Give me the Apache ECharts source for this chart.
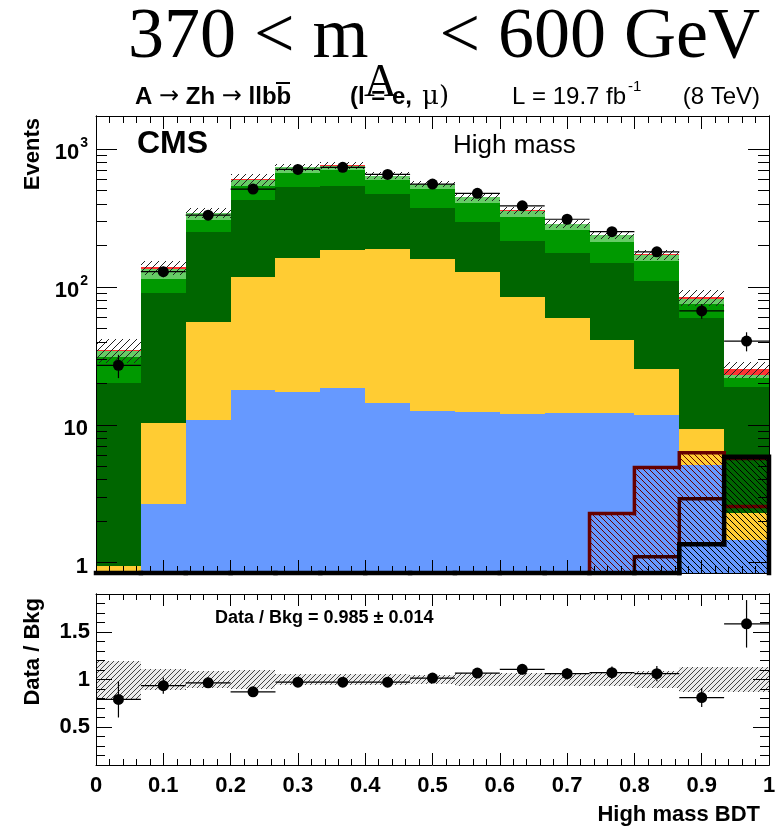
<!DOCTYPE html>
<html>
<head>
<meta charset="utf-8">
<script src="https://cdn.jsdelivr.net/npm/echarts@6/dist/echarts.min.js"></script>
<style>
  html, body { margin: 0; padding: 0; background: #fff; }
  #chart { width: 783px; height: 828px; }
</style>
</head>
<body>
<div id="chart"></div>
<script>
  // bin edges of the high mass BDT (15 bins)
  const binEdges = [0, 0.0667, 0.1333, 0.2, 0.2667, 0.3333, 0.4, 0.4667, 0.5333, 0.6, 0.6667, 0.7333, 0.8, 0.8667, 0.9333, 1]

  // stacked backgrounds, bottom to top
  const bkgBlue = [0.3, 2.66, 10.8, 17.9, 17.3, 18.5, 14.4, 12.6, 12.4, 12.0, 12.2, 12.2, 11.8, 5.1, 1.47]
  const bkgYellow = [0.65, 7.6, 44.8, 100, 146, 168, 173, 146, 116, 73, 47.6, 29, 13.6, 4.25, 0.83]
  const bkgDarkGreen = [19.3, 80.5, 196, 309, 370, 358, 285, 213, 166, 131, 118, 107, 84.6, 49.8, 16.4]
  const bkgGreen = [10.6, 23.2, 54, 113, 142, 160, 128, 139, 110, 104, 81, 65, 44, 16, 3.0]
  const bkgLightGreen = [3.6, 22, 36, 57, 63, 49, 38, 47, 43, 37, 27, 25, 16, 6.6, 1.3]
  const bkgRed = [0.5, 2.5, 5, 8, 3, 8, 3, 3, 3, 2, 2, 2, 2, 2.3, 2.3]
  // relative uncertainty of the total background
  const bkgUnc = [0.2, 0.115, 0.085, 0.1, 0.06, 0.06, 0.06, 0.05, 0.07, 0.065, 0.065, 0.065, 0.085, 0.135, 0.135]

  // signal templates (hatched, not stacked)
  const sigRed = [0, 0, 0, 0, 0, 0, 0, 0, 0, 0, 0, 2.27, 4.89, 6.27, 2.55]
  const sigBrown = [0, 0, 0, 0, 0, 0, 0, 0, 0, 0, 0, 0, 1.10, 2.90, 5.7]
  const sigBlack = [0, 0, 0, 0, 0, 0, 0, 0, 0, 0, 0, 0, 0, 1.36, 5.87]

  // data
  const dataEvents = [27, 129, 332, 513, 713, 738, 656, 558, 478, 388, 310, 252, 180, 67, 40.5]
  const dataErr = [5.2, 11.4, 18.2, 22.6, 26.7, 27.2, 25.6, 23.6, 21.9, 19.7, 17.6, 15.9, 13.4, 8.2, 6.4]

  // ratio panel
  const ratio = [0.79, 0.935, 0.965, 0.87, 0.972, 0.972, 0.972, 1.015, 1.068, 1.107, 1.061, 1.072, 1.061, 0.81, 1.586]
  const ratioErr = [0.19, 0.085, 0.055, 0.045, 0.04, 0.04, 0.04, 0.045, 0.05, 0.055, 0.06, 0.065, 0.08, 0.1, 0.25]

  // tick labels
  const logMajor = [1, 10, 100, 1000]
  const logMinor = [2, 3, 4, 5, 6, 7, 8, 9, 20, 30, 40, 50, 60, 70, 80, 90, 200, 300, 400, 500, 600, 700, 800, 900]
  const ratioMajor = [0.5, 1, 1.5]

  const Y_MIN = 0.84
  const Y_MAX = 1740
  const SANS = '"Liberation Sans", Arial, sans-serif'
  const SERIF = '"Liberation Serif", "Times New Roman", serif'

  // hatch pattern, dir 1 = '/', -1 = '\'
  const hatch = (color, step, dir, bg) => {
    const c = document.createElement('canvas')
    c.width = c.height = step
    const g = c.getContext('2d')
    if (bg) { g.fillStyle = bg; g.fillRect(0, 0, step, step) }
    g.strokeStyle = color
    g.lineWidth = 1
    g.beginPath()
    if (dir > 0) {
      g.moveTo(0, step); g.lineTo(step, 0)
      g.moveTo(-2, 2); g.lineTo(2, -2)
      g.moveTo(step - 2, step + 2); g.lineTo(step + 2, step - 2)
    } else {
      g.moveTo(0, 0); g.lineTo(step, step)
      g.moveTo(step - 2, -2); g.lineTo(step + 2, 2)
      g.moveTo(-2, step - 2); g.lineTo(2, step + 2)
    }
    g.stroke()
    return { image: c, repeat: 'repeat' }
  }

  const clampY = (v) => Math.max(v, Y_MIN)

  // rectangles [x0, x1, y0, y1]
  const rectSeries = (items, style, z, xi, yi, logY) => ({
    type: 'custom',
    xAxisIndex: xi,
    yAxisIndex: yi,
    z: z,
    silent: true,
    animation: false,
    renderItem: (params, api) => {
      let lo = api.value(2)
      let hi = api.value(3)
      if (logY) {
        if (hi <= Y_MIN) return null
        lo = clampY(lo)
      }
      const p0 = api.coord([api.value(0), hi])
      const p1 = api.coord([api.value(1), lo])
      const x0 = Math.round(p0[0])
      const x1 = Math.round(p1[0])
      const y0 = Math.round(p0[1])
      const y1 = Math.round(p1[1])
      return { type: 'rect', shape: { x: x0, y: y0, width: x1 - x0, height: y1 - y0 }, style: style }
    },
    data: items
  })

  // 1. stacked backgrounds
  const layers = [
    { values: bkgBlue, color: '#6699ff' },
    { values: bkgYellow, color: '#ffcc33' },
    { values: bkgDarkGreen, color: '#006600' },
    { values: bkgGreen, color: '#009900' },
    { values: bkgLightGreen, color: '#66cc66' },
    { values: bkgRed, color: '#ff3333' }
  ]
  const total = bkgBlue.map(() => 0)
  const series = []
  layers.forEach((layer) => {
    const items = layer.values.map((v, i) => {
      const lo = total[i]
      total[i] += v
      return [binEdges[i], binEdges[i + 1], lo, total[i]]
    })
    series.push(rectSeries(items, { fill: layer.color }, 2, 0, 0, true))
  })

  // 2. signal templates: hatched fill + step outline
  const signals = [
    { values: sigRed, color: '#660000', width: 3.5 },
    { values: sigBrown, color: '#3a0000', width: 3.5 },
    { values: sigBlack, color: '#000000', width: 4.5 }
  ]
  signals.forEach((sig, k) => {
    const fillItems = sig.values.map((v, i) => [binEdges[i], binEdges[i + 1], 0, v])
    series.push(rectSeries(fillItems, { fill: hatch(sig.color, 6, -1) }, 3 + k * 0.1, 0, 0, true))
    series.push({
      type: 'custom',
      xAxisIndex: 0,
      yAxisIndex: 0,
      z: 3.05 + k * 0.1,
      silent: true,
      animation: false,
      renderItem: (params, api) => {
        const i = params.dataIndex
        const prev = i > 0 ? sig.values[i - 1] : 0
        const x0 = api.value(0)
        const x1 = api.value(1)
        const pts = [
          api.coord([x0, clampY(prev)]),
          api.coord([x0, clampY(api.value(2))]),
          api.coord([x1, clampY(api.value(2))])
        ]
        if (i === sig.values.length - 1) pts.push(api.coord([x1, Y_MIN]))
        return {
          type: 'polyline',
          shape: { points: pts },
          style: { stroke: sig.color, lineWidth: sig.width, fill: null, lineCap: 'square', lineJoin: 'miter' }
        }
      },
      data: sig.values.map((v, i) => [binEdges[i], binEdges[i + 1], v])
    })
  })

  // 3. background uncertainty band
  const bandItems = total.map((t, i) => [binEdges[i], binEdges[i + 1], t * (1 - bkgUnc[i]), t * (1 + bkgUnc[i])])
  series.push(rectSeries(bandItems, { fill: hatch('#222', 7, 1) }, 4, 0, 0, true))

  // data points with error bars
  const pointSeries = (values, errs, xi, yi) => ({
    type: 'custom',
    xAxisIndex: xi,
    yAxisIndex: yi,
    z: 5,
    silent: true,
    animation: false,
    renderItem: (params, api) => {
      const x0 = api.value(0)
      const x1 = api.value(1)
      const v = api.value(2)
      const e = api.value(3)
      const xm = (x0 + x1) / 2
      const c = api.coord([xm, v])
      const l = api.coord([x0, v])
      const r = api.coord([x1, v])
      const up = api.coord([xm, v + e])
      const dn = api.coord([xm, v - e])
      const line = { stroke: '#000', lineWidth: 1.2 }
      return {
        type: 'group',
        children: [
          { type: 'line', shape: { x1: l[0], y1: c[1], x2: r[0], y2: c[1] }, style: line },
          { type: 'line', shape: { x1: c[0], y1: up[1], x2: c[0], y2: dn[1] }, style: line },
          { type: 'circle', shape: { cx: c[0], cy: c[1], r: 5.5 }, style: { fill: '#000' } }
        ]
      }
    },
    data: values.map((v, i) => [binEdges[i], binEdges[i + 1], v, errs[i]])
  })
  series.push(pointSeries(dataEvents, dataErr, 0, 0))

  // ratio panel: band and points
  const ratioBand = bkgUnc.map((u, i) => [binEdges[i], binEdges[i + 1], 1 - u, 1 + u])
  series.push(rectSeries(ratioBand, { fill: hatch('#444', 5, 1, 'rgba(150,150,150,0.18)') }, 4, 2, 4, false))
  series.push(pointSeries(ratio, ratioErr, 2, 4))

  // axes
  const black = { color: '#000', width: 1 }
  const xAxisDef = (grid, pos, labels, majorLen, minorLen) => ({
    type: 'value', gridIndex: grid, position: pos, min: 0, max: 1, interval: 0.1, z: 10,
    axisLine: { show: true, onZero: false, lineStyle: black },
    axisTick: { show: true, inside: true, length: majorLen, lineStyle: black },
    minorTick: { show: true, splitNumber: 5, length: minorLen, lineStyle: black },
    axisLabel: labels ? {
      show: true, margin: 10, color: '#000', fontFamily: SANS, fontWeight: 'bold', fontSize: 22,
      formatter: (v) => String(Math.round(v * 10) / 10)
    } : { show: false },
    splitLine: { show: false }
  })
  const logAxisDef = (pos, ticks, len, labels) => ({
    type: 'log', logBase: 10, gridIndex: 0, position: pos, min: Y_MIN, max: Y_MAX, z: 10,
    axisLine: { show: true, onZero: false, lineStyle: black },
    axisTick: { show: true, inside: true, length: len, customValues: ticks, lineStyle: black },
    axisLabel: labels ? {
      show: true, margin: 8, customValues: logMajor, color: '#000',
      formatter: (v) => {
        if (v < 5) return '{a|1}'
        if (v < 50) return '{a|10}'
        return v < 500 ? '{a|10}{s|2}' : '{a|10}{s|3}'
      },
      rich: {
        a: { fontFamily: SANS, fontWeight: 'bold', fontSize: 22, lineHeight: 30, verticalAlign: 'bottom', color: '#000' },
        s: { fontFamily: SANS, fontWeight: 'bold', fontSize: 14, lineHeight: 30, verticalAlign: 'top', color: '#000', padding: [2, 0, 0, 1] }
      }
    } : { show: false },
    splitLine: { show: false }
  })
  const ratioAxisDef = (pos, ticks, len, labels) => ({
    type: 'value', gridIndex: 1, position: pos, min: 0.1, max: 1.9, interval: 0.1, z: 10,
    axisLine: { show: true, onZero: false, lineStyle: black },
    axisTick: ticks ? { show: true, inside: true, length: len, customValues: ticks, lineStyle: black }
      : { show: true, inside: true, length: len, lineStyle: black },
    axisLabel: labels ? {
      show: true, margin: 6, customValues: ratioMajor, color: '#000',
      fontFamily: SANS, fontWeight: 'bold', fontSize: 22
    } : { show: false },
    splitLine: { show: false }
  })

  const bold24 = 'bold 24px ' + SANS
  const arrowFont = '24px "DejaVu Sans", sans-serif'

  const option = {
    backgroundColor: '#fff',
    animation: false,
    grid: [
      { left: 96, top: 116, width: 673, height: 457, containLabel: false, outerBoundsMode: 'none' },
      { left: 96, top: 594, width: 673, height: 171, containLabel: false, outerBoundsMode: 'none' }
    ],
    xAxis: [
      xAxisDef(0, 'bottom', false, 13, 7),
      xAxisDef(0, 'top', false, 13, 7),
      xAxisDef(1, 'bottom', true, 12, 6),
      xAxisDef(1, 'top', false, 12, 6)
    ],
    yAxis: [
      logAxisDef('left', logMajor, 21, true),
      logAxisDef('left', logMinor, 11, false),
      logAxisDef('right', logMajor, 21, false),
      logAxisDef('right', logMinor, 11, false),
      ratioAxisDef('left', null, 9, true),
      ratioAxisDef('left', ratioMajor, 16, false),
      ratioAxisDef('right', null, 9, false),
      ratioAxisDef('right', ratioMajor, 16, false)
    ],
    graphic: [
      { type: 'text', x: 128, y: 38, style: { text: '370 < m', font: '72px ' + SERIF, fill: '#000', align: 'left', verticalAlign: 'middle' } },
      { type: 'text', x: 364, y: 84, style: { text: 'A', font: '46px ' + SERIF, fill: '#000', align: 'left', verticalAlign: 'middle' } },
      { type: 'text', x: 760, y: 38, style: { text: '< 600 GeV', font: '72px ' + SERIF, fill: '#000', align: 'right', verticalAlign: 'middle' } },
      {
        type: 'text', x: 135, y: 97,
        style: {
          text: '{b|A }{n|\u2192}{b| Zh }{n|\u2192}{b| llbb}', align: 'left', verticalAlign: 'middle',
          rich: {
            b: { font: bold24, fill: '#000' },
            n: { font: arrowFont, fill: '#000' }
          }
        }
      },
      { type: 'line', shape: { x1: 276, y1: 83, x2: 290, y2: 83 }, style: { stroke: '#000', lineWidth: 2 } },
      { type: 'text', x: 350, y: 97, style: { text: '(l = e,', font: bold24, fill: '#000', align: 'left', verticalAlign: 'middle' } },
      { type: 'text', x: 422, y: 97, style: { text: '\u03bc)', font: '26px "DejaVu Serif", ' + SERIF, fill: '#000', align: 'left', verticalAlign: 'middle' } },
      { type: 'text', x: 512, y: 97, style: { text: 'L = 19.7 fb', font: '24px ' + SANS, fill: '#000', align: 'left', verticalAlign: 'middle' } },
      { type: 'text', x: 628, y: 87, style: { text: '-1', font: '15px ' + SANS, fill: '#000', align: 'left', verticalAlign: 'middle' } },
      { type: 'text', x: 760, y: 97, style: { text: '(8 TeV)', font: '24px ' + SANS, fill: '#000', align: 'right', verticalAlign: 'middle' } },
      { type: 'text', x: 137, y: 144, z: 20, style: { text: 'CMS', font: 'bold 32px ' + SANS, fill: '#000', align: 'left', verticalAlign: 'middle' } },
      { type: 'text', x: 453, y: 146, z: 20, style: { text: 'High mass', font: '26px ' + SANS, fill: '#000', align: 'left', verticalAlign: 'middle' } },
      { type: 'text', x: 33, y: 118, rotation: Math.PI / 2, style: { text: 'Events', font: 'bold 22px ' + SANS, fill: '#000', align: 'right', verticalAlign: 'middle' } },
      { type: 'text', x: 33, y: 598, rotation: Math.PI / 2, style: { text: 'Data / Bkg', font: 'bold 22px ' + SANS, fill: '#000', align: 'right', verticalAlign: 'middle' } },
      { type: 'text', x: 215, y: 618, z: 20, style: { text: 'Data / Bkg = 0.985 \u00b1 0.014', font: 'bold 18px ' + SANS, fill: '#000', align: 'left', verticalAlign: 'middle' } },
      { type: 'text', x: 760, y: 815, style: { text: 'High mass BDT', font: 'bold 22px ' + SANS, fill: '#000', align: 'right', verticalAlign: 'middle' } }
    ],
    series: series
  }

  const chart = echarts.init(document.getElementById('chart'))
  chart.setOption(option)
</script>
</body>
</html>
